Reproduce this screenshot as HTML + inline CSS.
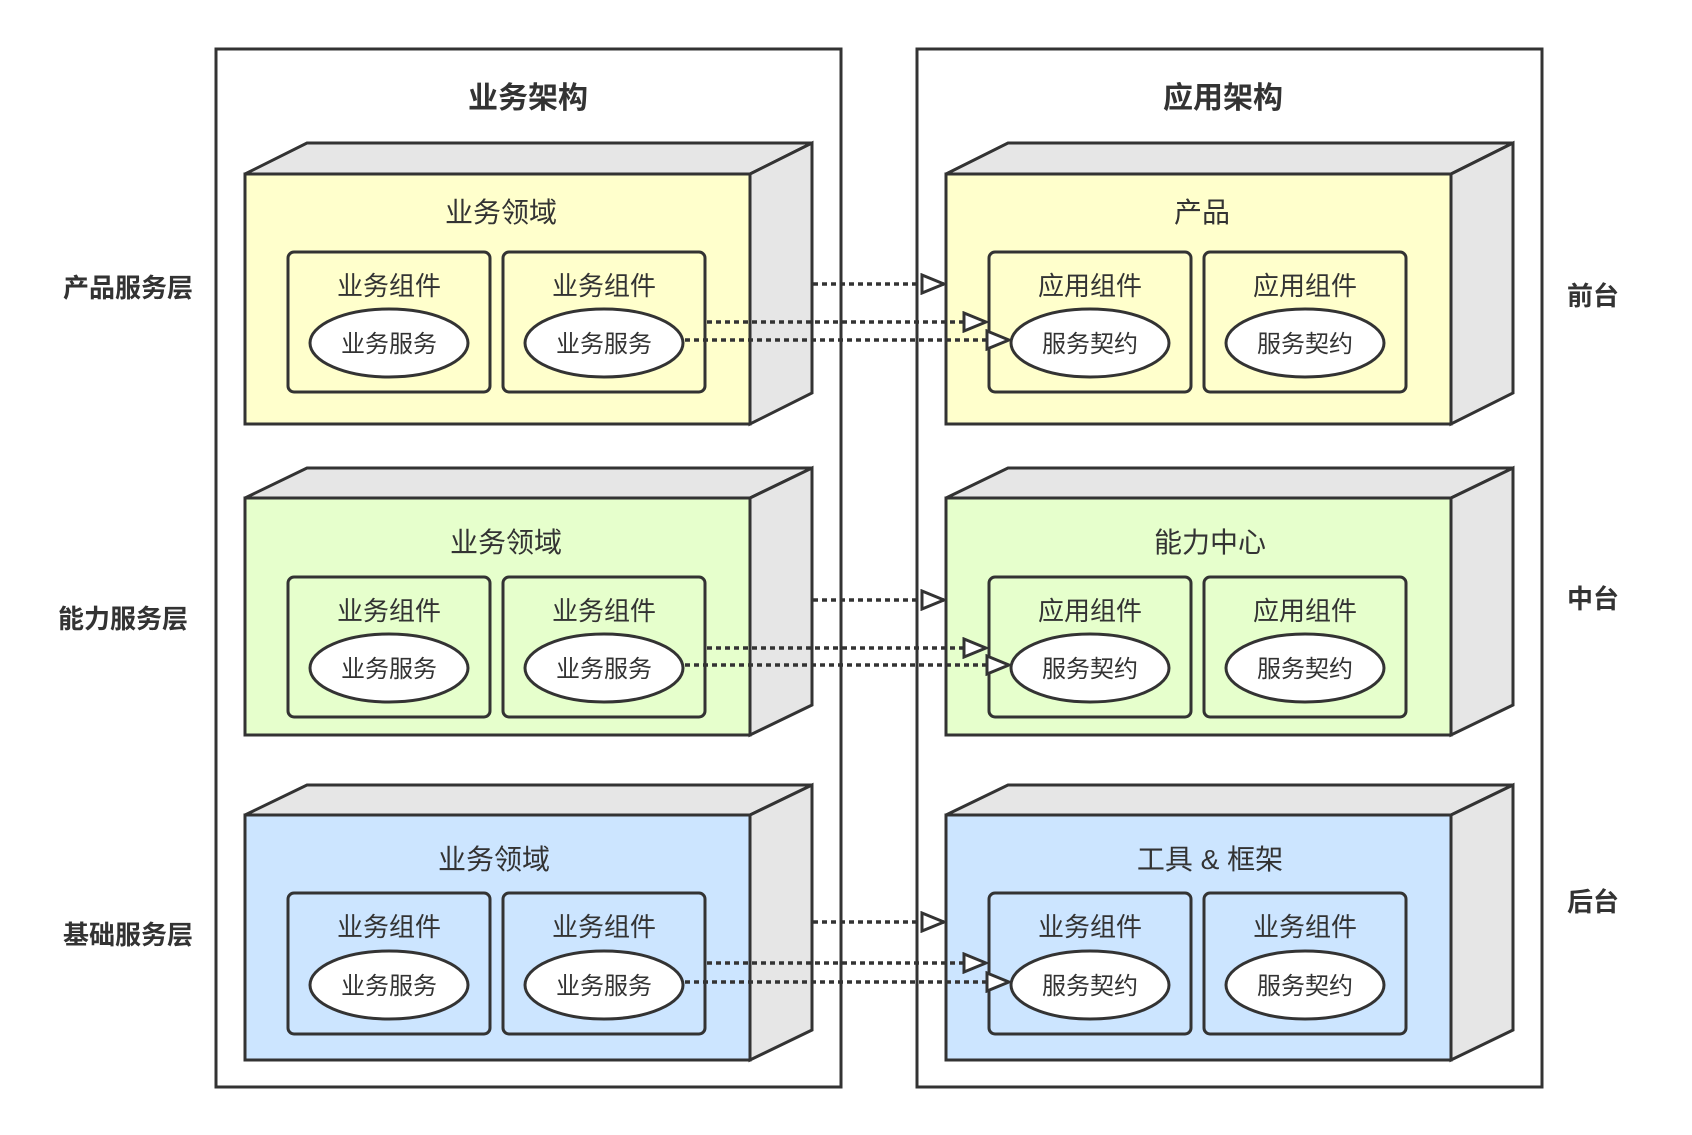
<!DOCTYPE html>
<html><head><meta charset="utf-8"><style>
html,body{margin:0;padding:0;background:#fff;}
svg text{font-family:"Liberation Sans","Noto Sans CJK SC",sans-serif;fill:#333;}
</style></head><body>
<svg width="1692" height="1130" viewBox="0 0 1692 1130" xmlns="http://www.w3.org/2000/svg">
<defs>
<marker id="a" markerWidth="26" markerHeight="22" refX="24" refY="11" orient="auto" markerUnits="userSpaceOnUse">
<path d="M2,2 L24,11 L2,20 Z" fill="#fff" stroke="#333" stroke-width="3"/>
</marker>
</defs>
<rect x="216" y="49" width="625" height="1038" fill="#fff" stroke="#333" stroke-width="3"/>
<rect x="917" y="49" width="625" height="1038" fill="#fff" stroke="#333" stroke-width="3"/>
<text x="528" y="108" font-size="30" font-weight="bold" text-anchor="middle">业务架构</text>
<text x="1223" y="108" font-size="30" font-weight="bold" text-anchor="middle">应用架构</text>

<g font-size="26" font-weight="bold" text-anchor="middle">
<text x="128" y="297">产品服务层</text>
<text x="123" y="628">能力服务层</text>
<text x="128" y="944">基础服务层</text>
<text x="1593" y="305">前台</text>
<text x="1593" y="608">中台</text>
<text x="1593" y="911">后台</text>
</g>

<g id="cubes" stroke="#333" stroke-width="3" stroke-linejoin="miter">
<!-- generated per cube below -->
</g>

<!-- Left row 1 -->
<g stroke="#333" stroke-width="3">
<polygon points="245,174 307,143 812,143 750,174" fill="#e6e6e6"/>
<polygon points="750,174 812,143 812,393 750,424" fill="#e6e6e6"/>
<rect x="245" y="174" width="505" height="250" fill="#ffffcc"/>
<polygon points="946,174 1008,143 1513,143 1451,174" fill="#e6e6e6"/>
<polygon points="1451,174 1513,143 1513,393 1451,424" fill="#e6e6e6"/>
<rect x="946" y="174" width="505" height="250" fill="#ffffcc"/>

<polygon points="245,498 307,468 812,468 750,498" fill="#e6e6e6"/>
<polygon points="750,498 812,468 812,705 750,735" fill="#e6e6e6"/>
<rect x="245" y="498" width="505" height="237" fill="#e6ffcc"/>
<polygon points="946,498 1008,468 1513,468 1451,498" fill="#e6e6e6"/>
<polygon points="1451,498 1513,468 1513,705 1451,735" fill="#e6e6e6"/>
<rect x="946" y="498" width="505" height="237" fill="#e6ffcc"/>

<polygon points="245,815 307,785 812,785 750,815" fill="#e6e6e6"/>
<polygon points="750,815 812,785 812,1030 750,1060" fill="#e6e6e6"/>
<rect x="245" y="815" width="505" height="245" fill="#cce5ff"/>
<polygon points="946,815 1008,785 1513,785 1451,815" fill="#e6e6e6"/>
<polygon points="1451,815 1513,785 1513,1030 1451,1060" fill="#e6e6e6"/>
<rect x="946" y="815" width="505" height="245" fill="#cce5ff"/>
</g>

<g font-size="28" text-anchor="middle">
<text x="501" y="222">业务领域</text>
<text x="1202" y="222">产品</text>
<text x="506" y="552">业务领域</text>
<text x="1210" y="552">能力中心</text>
<text x="494" y="869">业务领域</text>
<text x="1210" y="869">工具 &amp; 框架</text>
</g>

<!-- inner boxes -->
<g stroke="#333" stroke-width="3" fill="none">
<rect x="288" y="252" width="202" height="140" rx="6"/>
<rect x="503" y="252" width="202" height="140" rx="6"/>
<rect x="989" y="252" width="202" height="140" rx="6"/>
<rect x="1204" y="252" width="202" height="140" rx="6"/>
<rect x="288" y="577" width="202" height="140" rx="6"/>
<rect x="503" y="577" width="202" height="140" rx="6"/>
<rect x="989" y="577" width="202" height="140" rx="6"/>
<rect x="1204" y="577" width="202" height="140" rx="6"/>
<rect x="288" y="893" width="202" height="141" rx="6"/>
<rect x="503" y="893" width="202" height="141" rx="6"/>
<rect x="989" y="893" width="202" height="141" rx="6"/>
<rect x="1204" y="893" width="202" height="141" rx="6"/>
</g>
<g stroke="#333" stroke-width="3" fill="#fff">
<ellipse cx="389" cy="343" rx="79" ry="34"/>
<ellipse cx="604" cy="343" rx="79" ry="34"/>
<ellipse cx="1090" cy="343" rx="79" ry="34"/>
<ellipse cx="1305" cy="343" rx="79" ry="34"/>
<ellipse cx="389" cy="668" rx="79" ry="34"/>
<ellipse cx="604" cy="668" rx="79" ry="34"/>
<ellipse cx="1090" cy="668" rx="79" ry="34"/>
<ellipse cx="1305" cy="668" rx="79" ry="34"/>
<ellipse cx="389" cy="985" rx="79" ry="34"/>
<ellipse cx="604" cy="985" rx="79" ry="34"/>
<ellipse cx="1090" cy="985" rx="79" ry="34"/>
<ellipse cx="1305" cy="985" rx="79" ry="34"/>
</g>
<g font-size="26" text-anchor="middle">
<text x="389" y="295">业务组件</text><text x="604" y="295">业务组件</text>
<text x="1090" y="295">应用组件</text><text x="1305" y="295">应用组件</text>
<text x="389" y="620">业务组件</text><text x="604" y="620">业务组件</text>
<text x="1090" y="620">应用组件</text><text x="1305" y="620">应用组件</text>
<text x="389" y="936">业务组件</text><text x="604" y="936">业务组件</text>
<text x="1090" y="936">业务组件</text><text x="1305" y="936">业务组件</text>
</g>
<g font-size="24" text-anchor="middle">
<text x="389" y="352">业务服务</text><text x="604" y="352">业务服务</text>
<text x="1090" y="352">服务契约</text><text x="1305" y="352">服务契约</text>
<text x="389" y="677">业务服务</text><text x="604" y="677">业务服务</text>
<text x="1090" y="677">服务契约</text><text x="1305" y="677">服务契约</text>
<text x="389" y="994">业务服务</text><text x="604" y="994">业务服务</text>
<text x="1090" y="994">服务契约</text><text x="1305" y="994">服务契约</text>
</g>

<g stroke="#333" stroke-width="3.5" stroke-dasharray="5,4" fill="none">
<line x1="813" y1="284" x2="944" y2="284" marker-end="url(#a)"/>
<line x1="707" y1="322" x2="986" y2="322" marker-end="url(#a)"/>
<line x1="685" y1="340" x2="1009" y2="340" marker-end="url(#a)"/>
<line x1="813" y1="600" x2="944" y2="600" marker-end="url(#a)"/>
<line x1="707" y1="648" x2="986" y2="648" marker-end="url(#a)"/>
<line x1="685" y1="665" x2="1009" y2="665" marker-end="url(#a)"/>
<line x1="813" y1="922" x2="944" y2="922" marker-end="url(#a)"/>
<line x1="707" y1="963" x2="986" y2="963" marker-end="url(#a)"/>
<line x1="685" y1="982" x2="1009" y2="982" marker-end="url(#a)"/>
</g>
</svg>
</body></html>
